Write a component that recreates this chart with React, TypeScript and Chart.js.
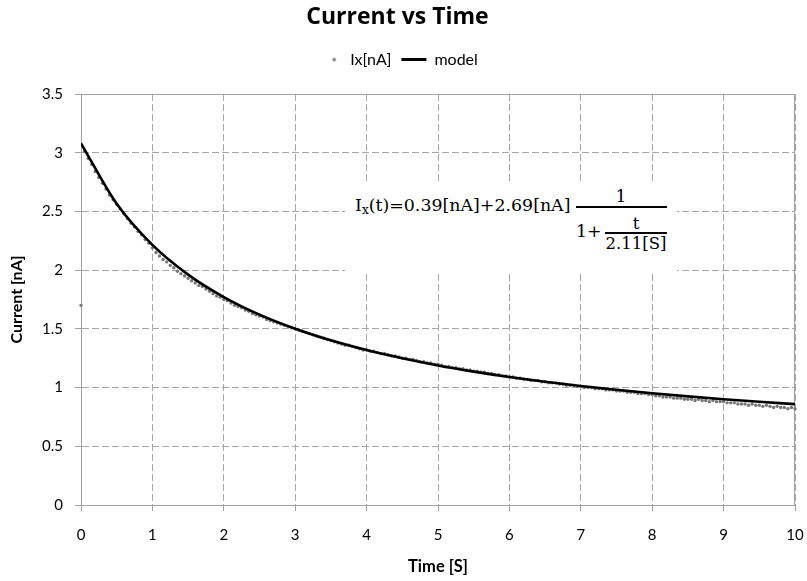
import React, { useEffect, useRef } from "react";
import { Chart, registerables } from "chart.js";

Chart.register(...registerables);

// ---- Data -----------------------------------------------------------------
// Measured current Ix[nA] vs time [S]
const timeS = [
  0.00, 0.05, 0.10, 0.15, 0.20, 0.25, 0.30, 0.35, 0.40, 0.45, 0.50, 0.55, 0.60, 0.65, 0.70, 0.75, 0.80, 0.85, 0.90, 0.95,
  1.00, 1.05, 1.10, 1.15, 1.20, 1.25, 1.30, 1.35, 1.40, 1.45, 1.50, 1.55, 1.60, 1.65, 1.70, 1.75, 1.80, 1.85, 1.90, 1.95,
  2.00, 2.05, 2.10, 2.15, 2.20, 2.25, 2.30, 2.35, 2.40, 2.45, 2.50, 2.55, 2.60, 2.65, 2.70, 2.75, 2.80, 2.85, 2.90, 2.95,
  3.00, 3.05, 3.10, 3.15, 3.20, 3.25, 3.30, 3.35, 3.40, 3.45, 3.50, 3.55, 3.60, 3.65, 3.70, 3.75, 3.80, 3.85, 3.90, 3.95,
  4.00, 4.05, 4.10, 4.15, 4.20, 4.25, 4.30, 4.35, 4.40, 4.45, 4.50, 4.55, 4.60, 4.65, 4.70, 4.75, 4.80, 4.85, 4.90, 4.95,
  5.00, 5.05, 5.10, 5.15, 5.20, 5.25, 5.30, 5.35, 5.40, 5.45, 5.50, 5.55, 5.60, 5.65, 5.70, 5.75, 5.80, 5.85, 5.90, 5.95,
  6.00, 6.05, 6.10, 6.15, 6.20, 6.25, 6.30, 6.35, 6.40, 6.45, 6.50, 6.55, 6.60, 6.65, 6.70, 6.75, 6.80, 6.85, 6.90, 6.95,
  7.00, 7.05, 7.10, 7.15, 7.20, 7.25, 7.30, 7.35, 7.40, 7.45, 7.50, 7.55, 7.60, 7.65, 7.70, 7.75, 7.80, 7.85, 7.90, 7.95,
  8.00, 8.05, 8.10, 8.15, 8.20, 8.25, 8.30, 8.35, 8.40, 8.45, 8.50, 8.55, 8.60, 8.65, 8.70, 8.75, 8.80, 8.85, 8.90, 8.95,
  9.00, 9.05, 9.10, 9.15, 9.20, 9.25, 9.30, 9.35, 9.40, 9.45, 9.50, 9.55, 9.60, 9.65, 9.70, 9.75, 9.80, 9.85, 9.90, 9.95,
  10.00,
];
const currentNA = [
  1.70, 3.01, 2.95, 2.90, 2.84, 2.79, 2.74, 2.69, 2.64, 2.60, 2.56, 2.52, 2.48, 2.44, 2.40, 2.37, 2.33, 2.30, 2.26, 2.23,
  2.19, 2.15, 2.12, 2.09, 2.07, 2.04, 2.02, 1.99, 1.97, 1.95, 1.93, 1.91, 1.89, 1.87, 1.86, 1.84, 1.82, 1.80, 1.78, 1.77,
  1.75, 1.74, 1.72, 1.70, 1.69, 1.68, 1.66, 1.65, 1.63, 1.62, 1.61, 1.60, 1.58, 1.57, 1.56, 1.55, 1.54, 1.53, 1.52, 1.51,
  1.50, 1.49, 1.48, 1.47, 1.46, 1.45, 1.44, 1.43, 1.42, 1.41, 1.40, 1.39, 1.38, 1.37, 1.36, 1.36, 1.35, 1.34, 1.33, 1.32,
  1.32, 1.31, 1.31, 1.30, 1.29, 1.29, 1.28, 1.27, 1.27, 1.26, 1.25, 1.25, 1.24, 1.24, 1.23, 1.22, 1.22, 1.21, 1.21, 1.20,
  1.20, 1.19, 1.18, 1.18, 1.17, 1.17, 1.16, 1.16, 1.15, 1.15, 1.14, 1.14, 1.13, 1.13, 1.12, 1.12, 1.11, 1.11, 1.10, 1.10,
  1.09, 1.09, 1.08, 1.08, 1.07, 1.07, 1.06, 1.06, 1.06, 1.05, 1.05, 1.04, 1.04, 1.04, 1.03, 1.03, 1.02, 1.02, 1.02, 1.01,
  1.01, 1.00, 1.00, 1.00, 0.99, 0.99, 0.99, 0.98, 0.98, 0.98, 0.97, 0.97, 0.97, 0.96, 0.96, 0.96, 0.95, 0.95, 0.95, 0.94,
  0.94, 0.93, 0.93, 0.92, 0.92, 0.92, 0.91, 0.91, 0.91, 0.90, 0.90, 0.90, 0.89, 0.90, 0.89, 0.89, 0.88, 0.89, 0.88, 0.88,
  0.88, 0.87, 0.87, 0.87, 0.86, 0.86, 0.86, 0.85, 0.86, 0.85, 0.85, 0.84, 0.85, 0.84, 0.83, 0.84, 0.83, 0.83, 0.82, 0.83,
  0.82,
];

// Fitted model curve
const modelTimeS = [
  0, 0.5, 1, 1.5, 2, 2.5, 3, 3.5, 4, 4.5, 5,
  5.5, 6, 6.5, 7, 7.5, 8, 8.5, 9, 9.5, 10,
];
const modelCurrentNA = [
  3.080, 2.565, 2.215, 1.962, 1.771, 1.621, 1.501, 1.402, 1.319, 1.249, 1.188,
  1.136, 1.090, 1.049, 1.013, 0.981, 0.951, 0.925, 0.901, 0.879, 0.859,
];

const xTickValues = [0, 1, 2, 3, 4, 5, 6, 7, 8, 9, 10];
const yTickValues = [0, 0.5, 1, 1.5, 2, 2.5, 3, 3.5];

const seriesNames = ["Ix[nA]", "model"];
const chartTitle = "Current vs Time";
const xAxisTitle = "Time [S]";
const yAxisTitle = "Current [nA]";

// ---- Styling --------------------------------------------------------------
const FONT = "Lato, 'Open Sans', sans-serif";
const TITLE_FONT = "'Open Sans', Lato, sans-serif";
const GRID = "#a6a6a6";
const AXIS = "#a0a0a0";
const DOT = "#777777";
const EQ_FONT = "'DejaVu Serif', 'Liberation Serif', serif";
const EQ_BASE = 0.846; // baseline offset (em) for line-height 1

function Piece(props: {
  x: number;
  base: number;
  size: number;
  center?: boolean;
  children: React.ReactNode;
}) {
  const { x, base, size, center, children } = props;
  const top = base - EQ_BASE * size;
  return (
    <span
      style={{
        position: "absolute",
        left: x,
        top,
        fontSize: size,
        lineHeight: 1,
        whiteSpace: "nowrap",
        transform: center ? "translateX(-50%)" : undefined,
      }}
    >
      {children}
    </span>
  );
}

function Equation() {
  const ox = 345;
  const oy = 181;
  const P = (x: number) => x - ox;
  const Q = (y: number) => y - oy;
  return (
    <div
      style={{
        position: "absolute",
        left: ox,
        top: oy,
        width: 332,
        height: 92,
        background: "#ffffff",
        fontFamily: EQ_FONT,
        color: "#000",
      }}
    >
      <Piece x={P(355)} base={Q(212)} size={17.4}>
        I
        <span style={{ fontSize: 12, verticalAlign: -3 }}>x</span>
        (t)=0.39[nA]+2.69[nA]
      </Piece>
      <Piece x={P(621)} base={Q(203)} size={17.4} center>
        1
      </Piece>
      <div
        style={{
          position: "absolute",
          left: P(576),
          top: Q(206.3),
          width: 91,
          height: 1.4,
          background: "#000",
        }}
      />
      <Piece x={P(576)} base={Q(238)} size={17.4}>
        1+
      </Piece>
      <Piece x={P(636)} base={Q(230)} size={16.5} center>
        t
      </Piece>
      <div
        style={{
          position: "absolute",
          left: P(605),
          top: Q(232.4),
          width: 62,
          height: 1.2,
          background: "#000",
        }}
      />
      <Piece x={P(636)} base={Q(250)} size={16.5} center>
        2.11[S]
      </Piece>
    </div>
  );
}

export default function App() {
  const canvasRef = useRef<HTMLCanvasElement | null>(null);

  useEffect(() => {
    const canvas = canvasRef.current;
    if (!canvas) return;

    // tiny dot marker for the legend (25px wide legend box)
    const dotMarker = document.createElement("canvas");
    dotMarker.width = 25;
    dotMarker.height = 6;
    const dctx = dotMarker.getContext("2d");
    if (dctx) {
      dctx.fillStyle = DOT;
      dctx.beginPath();
      dctx.arc(17, 3, 1.8, 0, Math.PI * 2);
      dctx.fill();
    }

    const legendSpacing = {
      id: "legendSpacing",
      beforeInit(chart: any) {
        const legend = chart.legend;
        if (!legend) return;
        const origFit = legend.fit;
        legend.fit = function fit() {
          origFit.call(this);
          this.height += 16.4;
        };
      },
    };

    const frame = {
      id: "frame",
      beforeDatasetsDraw(chart: any) {
        const { ctx, chartArea: a } = chart;
        ctx.save();
        ctx.strokeStyle = AXIS;
        ctx.lineWidth = 1;
        ctx.setLineDash([]);
        const t = Math.round(a.top) + 0.5;
        const r = Math.round(a.right) - 0.5;
        ctx.beginPath();
        ctx.moveTo(a.left, t);
        ctx.lineTo(r, t);
        ctx.lineTo(r, a.bottom);
        ctx.stroke();
        ctx.restore();
      },
    };

    const scatterPoints = timeS.map((t, i) => ({ x: t, y: currentNA[i] }));
    const modelPoints = modelTimeS.map((t, i) => ({ x: t, y: modelCurrentNA[i] }));

    const chart = new Chart(canvas, {
      type: "scatter",
      data: {
        datasets: [
          {
            label: seriesNames[0],
            data: scatterPoints,
            showLine: false,
            pointRadius: 1.7,
            pointBorderWidth: 0,
            pointBackgroundColor: DOT,
            pointHoverRadius: 1.7,
            clip: 4,
            order: 2,
          },
          {
            label: seriesNames[1],
            data: modelPoints,
            showLine: true,
            pointRadius: 0,
            pointHoverRadius: 0,
            borderColor: "#000000",
            borderWidth: 2.6,
            cubicInterpolationMode: "monotone",
            fill: false,
            order: 1,
          },
        ],
      } as any,
      options: {
        responsive: false,
        animation: false,
        events: [],
        layout: { padding: { left: 0, right: 12, top: 0, bottom: 0 } },
        plugins: {
          title: {
            display: true,
            text: chartTitle,
            color: "#000",
            font: { family: TITLE_FONT, size: 23, weight: "bold", lineHeight: 1.2 },
            padding: { top: 4, bottom: 10 },
          },
          legend: {
            display: true,
            labels: {
              usePointStyle: true,
              pointStyleWidth: 25,
              padding: 10,
              color: "#000",
              font: { family: FONT, size: 16 },
              generateLabels: () => [
                {
                  text: seriesNames[0],
                  pointStyle: dotMarker,
                  fillStyle: DOT,
                  strokeStyle: "rgba(0,0,0,0)",
                  lineWidth: 0,
                  hidden: false,
                  datasetIndex: 0,
                  fontColor: "#000",
                },
                {
                  text: seriesNames[1],
                  pointStyle: "line",
                  fillStyle: "#000",
                  strokeStyle: "#000",
                  lineWidth: 3,
                  hidden: false,
                  datasetIndex: 1,
                  fontColor: "#000",
                },
              ],
            },
          },
          tooltip: { enabled: false },
        },
        scales: {
          x: {
            type: "linear",
            min: xTickValues[0],
            max: xTickValues[xTickValues.length - 1],
            afterBuildTicks: (scale: any) => {
              scale.ticks = xTickValues.map((v) => ({ value: v }));
            },
            afterFit: (scale: any) => {
              scale.height = 76;
              scale.paddingLeft = 0;
              scale.paddingRight = 0;
            },
            ticks: {
              padding: 15,
              color: "#000",
              font: { family: FONT, size: 15 },
              maxRotation: 0,
              callback: (v: any) => String(v),
            },
            grid: {
              color: GRID,
              lineWidth: 1,
              tickLength: 6,
              tickColor: AXIS,
            },
            border: { display: true, color: AXIS, width: 1, dash: [7, 3] },
            title: {
              display: true,
              text: xAxisTitle,
              color: "#000",
              font: { family: FONT, size: 16.5, weight: "bold", lineHeight: 1.2 },
              padding: { top: 0, bottom: 4 },
            },
          },
          y: {
            type: "linear",
            min: yTickValues[0],
            max: yTickValues[yTickValues.length - 1],
            afterBuildTicks: (scale: any) => {
              scale.ticks = yTickValues.map((v) => ({ value: v }));
            },
            afterFit: (scale: any) => {
              scale.width = 81;
              scale.paddingTop = 0;
              scale.paddingBottom = 0;
            },
            ticks: {
              padding: 12,
              color: "#000",
              font: { family: FONT, size: 15 },
              callback: (v: any) => String(v),
            },
            grid: {
              color: GRID,
              lineWidth: 1,
              tickLength: 6,
              tickColor: AXIS,
            },
            border: { display: true, color: AXIS, width: 1, dash: [7, 3] },
            title: {
              display: true,
              text: yAxisTitle,
              color: "#000",
              font: { family: FONT, size: 16, weight: "bold", lineHeight: 1.2 },
              padding: { top: 7, bottom: 0 },
            },
          },
        },
      } as any,
      plugins: [legendSpacing, frame],
    });

    return () => {
      chart.destroy();
    };
  }, []);

  return (
    <div
      style={{
        position: "absolute",
        left: 0,
        top: 0,
        width: 807,
        height: 581,
        background: "#ffffff",
      }}
    >
      <canvas
        ref={canvasRef}
        width={807}
        height={581}
        style={{ position: "absolute", left: 0, top: 0, width: 807, height: 581 }}
      />
      <Equation />
    </div>
  );
}
